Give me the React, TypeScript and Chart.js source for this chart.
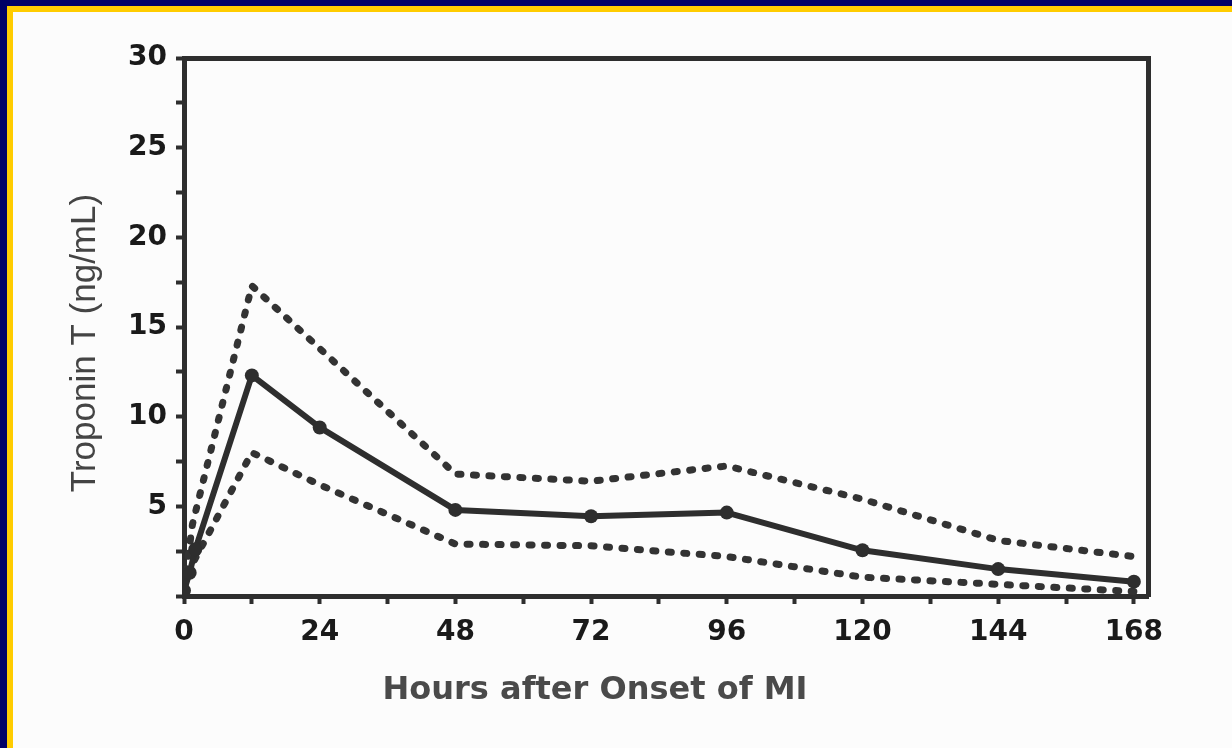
import React, { useEffect, useRef } from "react";
import { Chart, registerables } from "chart.js";

Chart.register(...registerables);

// ---- data ----
const hourTicks = [0, 12, 24, 36, 48, 60, 72, 84, 96, 108, 120, 132, 144, 156, 168];
const troponinTicks = [0, 2.5, 5, 7.5, 10, 12.5, 15, 17.5, 20, 22.5, 25, 27.5, 30];

const meanHours = [0, 1, 2, 12, 24, 48, 72, 96, 120, 144, 168];
const meanValues = [0.3, 1.3, 2.6, 12.3, 9.4, 4.8, 4.45, 4.65, 2.55, 1.5, 0.8];

const upperHours = [0, 1.5, 12, 48, 72, 96, 120, 144, 168];
const upperValues = [0.5, 4.0, 17.3, 6.8, 6.4, 7.25, 5.4, 3.1, 2.2];

const lowerHours = [0, 1, 12, 24, 48, 72, 96, 120, 144, 168];
const lowerValues = [0.4, 1.5, 8.0, 6.2, 2.9, 2.8, 2.2, 1.05, 0.65, 0.25];

const xTitle = "Hours after Onset of MI";
const yTitle = "Troponin T (ng/mL)";

const toPoints = (xs: number[], ys: number[]) => xs.map((x, i) => ({ x, y: ys[i] }));

const INK = "#2e2e2e";

const backgroundPlugin = {
  id: "frameBackground",
  beforeDraw(chart: any) {
    const { ctx, width, height } = chart;
    ctx.save();
    ctx.fillStyle = "#fcfcfc";
    ctx.fillRect(0, 0, width, height);
    ctx.fillStyle = "#000066";
    ctx.fillRect(0, 0, width, 6);
    ctx.fillRect(0, 0, 7, height);
    ctx.fillStyle = "#ffcc00";
    ctx.fillRect(7, 6, width - 7, 6);
    ctx.fillRect(7, 6, 6, height - 6);
    ctx.restore();
  },
};

const titlesPlugin = {
  id: "axisTitlesCustom",
  afterDraw(chart: any) {
    const { ctx } = chart;
    ctx.save();
    ctx.textAlign = "center";
    ctx.textBaseline = "middle";
    ctx.fillStyle = "#4a4a4a";
    ctx.font = "bold 32px 'DejaVu Sans'";
    ctx.fillText(xTitle, 595, 691);
    ctx.translate(85, 343);
    ctx.rotate(-Math.PI / 2);
    ctx.fillStyle = "#444444";
    ctx.font = "35px 'Liberation Sans'";
    ctx.fillText(yTitle, 0, 0);
    ctx.restore();
  },
};

export default function App() {
  const ref = useRef<HTMLCanvasElement | null>(null);

  useEffect(() => {
    if (!ref.current) return;
    const tickFont = { family: "'DejaVu Sans'", weight: "bold" as const, size: 28 };
    const chart = new Chart(ref.current, {
      type: "line",
      data: {
        datasets: [
          {
            label: "Mean",
            data: toPoints(meanHours, meanValues),
            borderColor: INK,
            backgroundColor: INK,
            borderWidth: 6,
            borderJoinStyle: "round",
            pointRadius: 7,
            pointBackgroundColor: INK,
            pointBorderWidth: 0,
            tension: 0,
          },
          {
            label: "Upper",
            data: toPoints(upperHours, upperValues),
            borderColor: "#333333",
            borderWidth: 7,
            borderDash: [3, 12.5],
            borderCapStyle: "round",
            pointRadius: 0,
            tension: 0,
          },
          {
            label: "Lower",
            data: toPoints(lowerHours, lowerValues),
            borderColor: "#333333",
            borderWidth: 7,
            borderDash: [3, 12.5],
            borderCapStyle: "round",
            pointRadius: 0,
            tension: 0,
          },
        ],
      },
      options: {
        responsive: false,
        animation: false,
        devicePixelRatio: 1,
        layout: { padding: 0 },
        plugins: {
          legend: { display: false },
          tooltip: { enabled: false },
        },
        scales: {
          x: {
            type: "linear",
            position: "bottom",
            min: 0,
            max: 170.5,
            afterBuildTicks: (s: any) => {
              s.ticks = hourTicks.map((v) => ({ value: v }));
            },
            afterFit: (s: any) => {
              s.height = 152;
            },
            ticks: {
              autoSkip: false,
              maxRotation: 0,
              padding: 12,
              color: "#1a1a1a",
              font: tickFont,
              callback: (v: any) => (Number(v) % 24 === 0 ? String(v) : ""),
            },
            grid: { drawOnChartArea: false, drawTicks: true, tickLength: 8, tickWidth: 4, color: INK },
            border: { display: true, width: 5, color: INK },
          },
          y: {
            type: "linear",
            position: "left",
            min: 0,
            max: 30,
            afterBuildTicks: (s: any) => {
              s.ticks = troponinTicks.map((v) => ({ value: v }));
            },
            afterFit: (s: any) => {
              s.width = 184;
            },
            ticks: {
              autoSkip: false,
              padding: 9,
              color: "#1a1a1a",
              font: tickFont,
              callback: (v: any) => (Number(v) % 5 === 0 && Number(v) !== 0 ? String(v) : ""),
            },
            grid: { drawOnChartArea: false, drawTicks: true, tickLength: 8, tickWidth: 4, color: INK },
            border: { display: true, width: 5, color: INK },
          },
          x2: {
            type: "linear",
            position: "top",
            min: 0,
            max: 1,
            afterFit: (s: any) => {
              s.height = 58;
            },
            ticks: { display: false },
            grid: { display: false },
            border: { display: true, width: 5, color: INK },
          },
          y2: {
            type: "linear",
            position: "right",
            min: 0,
            max: 1,
            afterFit: (s: any) => {
              s.width = 84;
            },
            ticks: { display: false },
            grid: { display: false },
            border: { display: true, width: 5, color: INK },
          },
        },
      },
      plugins: [backgroundPlugin, titlesPlugin],
    } as any);
    return () => chart.destroy();
  }, []);

  return (
    <div style={{ position: "fixed", left: 0, top: 0, width: 1232, height: 748 }}>
      <canvas ref={ref} width={1232} height={748} style={{ display: "block" }} />
    </div>
  );
}
